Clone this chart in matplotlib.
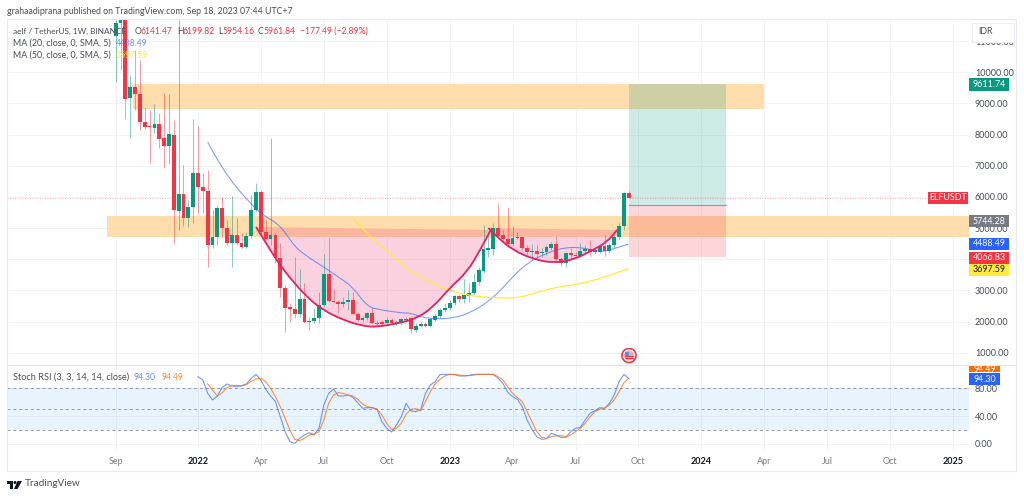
import matplotlib
matplotlib.use("Agg")
import matplotlib.pyplot as plt
from matplotlib.patches import Rectangle, Circle, Polygon, PathPatch
from matplotlib.path import Path
from matplotlib.lines import Line2D

plt.rcParams['font.family'] = ['Lato', 'DejaVu Sans']

# weekly candles, ELF/USDT in IDR
opens = [11170, 11580, 11680, 9180, 9530, 9300, 8400, 8280, 8210, 8340, 7890, 7640, 7990, 5550, 6100, 5320, 5680, 6770,
         6320, 6190, 4460, 4720, 5650, 5000, 4520, 4780, 4520, 4390, 4750, 5580, 6160, 4880, 4650, 4780, 4040, 3080,
         2470, 2400, 2240, 2730, 1990, 2020, 2120, 2530, 3530, 2660, 2630, 2560, 2630, 2690, 2240, 2050, 2120, 2280,
         1960, 1980, 1950, 2050, 1940, 1960, 2050, 2120, 1730, 1860, 1920, 1860, 2050, 2180, 2370, 2440, 2600, 2820,
         2730, 2820, 2920, 3270, 3620, 4300, 4330, 5000, 4780, 4650, 4490, 4680, 4720, 4360, 4230, 4270, 4200, 4230,
         4360, 4490, 4010, 3880, 4200, 4140, 4100, 4270, 4330, 4310, 4230, 4430, 4270, 4460, 4720, 5070, 6140]
highs = [11680, 11700, 11700, 9910, 10720, 10400, 8890, 8790, 8980, 8690, 9340, 9300, 8470, 11680, 7030, 5900, 8500, 8280,
         6770, 6870, 5580, 5740, 6000, 5260, 6030, 5320, 4840, 4880, 6060, 6450, 6220, 5260, 7890, 4840, 4520, 3170,
         2600, 4070, 3690, 3240, 2150, 2440, 2950, 4170, 4680, 3050, 2690, 2790, 3010, 2950, 2310, 2180, 2310, 2470,
         2050, 2050, 2150, 2120, 2050, 2120, 2150, 2150, 1960, 1990, 1990, 2120, 2280, 2440, 2600, 2690, 2850, 2850,
         3370, 3240, 3560, 3750, 5100, 4880, 5160, 5810, 4940, 5680, 5070, 4880, 4750, 4460, 4490, 4460, 4360, 4460,
         4550, 4750, 4070, 4230, 4360, 4230, 4520, 4460, 4620, 4390, 4460, 4780, 4520, 4840, 5160, 6160, 6200]
lows = [9690, 10070, 8500, 7890, 8790, 8150, 8180, 7090, 8050, 7570, 6930, 7060, 4490, 4940, 5070, 5040, 5160, 5490,
        5490, 3750, 4360, 4460, 4720, 4460, 3750, 4460, 4360, 4360, 4680, 5520, 4780, 4620, 4460, 3880, 2790, 1670,
        1990, 2120, 2150, 1960, 1730, 1960, 1960, 2470, 2630, 2600, 2280, 2470, 2370, 2240, 2020, 1990, 2050, 1960,
        1890, 1890, 1920, 1920, 1890, 1900, 1990, 1630, 1670, 1830, 1830, 1830, 2020, 2120, 2310, 2370, 2530, 2630,
        2600, 2630, 2850, 3170, 3560, 4070, 4140, 4680, 4550, 4430, 4430, 4650, 4300, 4140, 3980, 4040, 4070, 4140,
        4300, 3910, 3780, 3750, 3980, 4070, 4070, 4200, 4100, 4170, 4200, 4100, 4200, 4360, 4620, 4940, 5950]
closes = [11580, 11680, 9140, 9530, 9300, 8400, 8250, 8230, 8340, 7860, 7640, 8020, 5580, 6100, 5320, 5680, 6770, 6320,
          6190, 4460, 4720, 5650, 5000, 4520, 4780, 4520, 4390, 4750, 5580, 6160, 4880, 4650, 4780, 4040, 3080, 2440,
          2400, 2240, 2730, 1990, 2020, 2120, 2530, 3530, 2660, 2630, 2560, 2630, 2690, 2240, 2050, 2120, 2280, 1960,
          1920, 1930, 2050, 1950, 1990, 2080, 2080, 1760, 1860, 1920, 1860, 2080, 2180, 2370, 2440, 2600, 2820, 2730,
          2850, 2920, 3270, 3660, 4330, 4360, 5000, 4750, 4650, 4490, 4680, 4720, 4360, 4230, 4270, 4170, 4230, 4390,
          4490, 4010, 3880, 4200, 4140, 4100, 4270, 4330, 4230, 4230, 4430, 4270, 4460, 4720, 5070, 6130, 5960]

ma20_idx = [19, 22, 28, 31, 33, 35, 37, 40, 43, 46, 49, 52, 55, 59, 61, 63, 66, 70, 73, 76, 79, 82, 85, 89, 93, 97, 100, 102, 106]
ma20 = [7763, 6865, 5741, 5357, 5196, 4875, 4394, 4041, 3752, 3431, 3110, 2468, 2372, 2276, 2276, 2147, 2083, 2115, 2276,
        2532, 2917, 3431, 3880, 4201, 4394, 4362, 4233, 4298, 4488]
ma50_idx = [49, 52, 59, 61, 64, 68, 73, 79, 83, 86, 91, 96, 101, 106]
ma50 = [5324, 4779, 3880, 3591, 3335, 3046, 2821, 2757, 2757, 2886, 3110, 3206, 3431, 3698]

# hand drawn cup and handle
cup_idx = [29, 31.3, 33.5, 36, 39.5, 42.8, 47, 51, 54, 58.7, 62.3, 65.6, 69, 72.6, 75.3, 77.5]
cup = [5036, 4458, 3912, 3399, 2789, 2372, 2051, 1859, 1827, 1955, 2115, 2468, 3078, 3591, 4298, 4939]
handle_idx = [77, 78.8, 82, 86.2, 90.3, 94.5, 98.6, 101.5, 103.6]
handle = [5003, 4715, 4298, 4009, 3880, 3977, 4298, 4554, 4939]

k_idx = list(range(17, 107))
stoch_k = [96.7, 91.9, 72.7, 63.2, 68.9, 81.4, 86.2, 83.3, 82.3, 83.8, 86.2, 94.3, 100, 91.9, 78.5, 68.9, 60.8, 39.2,
           17.6, 3.2, 0.8, 8, 12.8, 16.1, 12.8, 22.4, 56, 72.7, 79, 68.9, 68.9, 70.3, 67, 59.3, 51.2, 52.1, 52.1, 49.7,
           32, 22.4, 17.1, 27.2, 39.2, 58.4, 47.3, 46.4, 48.8, 72.7, 84.7, 89.5, 100, 100, 100, 99.6, 97.7, 97.7, 98.6,
           100, 100, 100, 100, 100, 94.3, 87.1, 74.2, 67.9, 64.1, 53.6, 34.4, 20.9, 10.4, 6.6, 7.5, 15.2, 12.8, 9.4, 9.4,
           17.6, 22.4, 23.8, 34.4, 44, 47.8, 52.1, 51.2, 58.4, 70.3, 89.5, 100, 94.3]
d_idx = list(range(19, 107))
stoch_d = [86.2, 77.5, 68.9, 73.7, 80.9, 84.2, 84.2, 83.3, 85.2, 90, 93.4, 94.3, 89.5, 79.9, 67.9, 53.6, 36.8, 20, 6.6,
           4.6, 8, 12.8, 14.2, 17.6, 34.4, 58.4, 70.3, 73.7, 72.7, 70.3, 68.9, 64.1, 57.4, 53.6, 52.1, 50.2, 41.6, 29.6,
           20.9, 22.4, 29.6, 42.5, 49.7, 50.7, 47.8, 60.8, 75.1, 86.2, 92.9, 97.7, 100, 100, 99.1, 98.2, 98.2, 99.1, 100,
           100, 100, 100, 96.7, 91.9, 82.3, 72.7, 66.5, 60.8, 46.4, 32, 17.6, 9.4, 8, 10.4, 11.8, 11.8, 10.4, 12.8, 17.6,
           22.4, 29.6, 39.2, 46.4, 49.7, 51.2, 56, 63.2, 75.1, 88.1, 94.49]

price_ticks = [1000, 2000, 3000, 4000, 5000, 6000, 7000, 8000, 9000, 10000, 11000]
stoch_ticks = [0, 40, 80]
time_ticks = [0, 17, 30, 43, 56, 69, 82, 95, 108, 121, 134, 147, 160, 173]
time_labels = ['Sep', '2022', 'Apr', 'Jul', 'Oct', '2023', 'Apr', 'Jul', 'Oct', '2024', 'Apr', 'Jul', 'Oct', '2025']

entry = 5744.28
target = 9611.74
stop = 4066.83
last_close = 5961.84

GREEN = '#089981'
RED = '#F23645'
BLUE = '#2962FF'
ORANGE = '#FF6D00'
YELLOW = '#FFEB3B'
PINK = '#E91E63'
GREY = '#787B86'
DARK = '#4A4E5A'
GRID = '#F2F3F7'
W, H = 1024, 497
FS = 6.4
TICK_FS = 6.5


def fx(x):
    return x / W


def fy(y):
    return 1 - y / H


def axes_at(x0, y0, x1, y1):
    return fig.add_axes([fx(x0), fy(y1), (x1 - x0) / W, (y1 - y0) / H])


def smooth(xs, ys, closed=False):
    # quadratic curve with the read points as controls, keeps both ends
    verts = [(xs[0], ys[0])]
    codes = [Path.MOVETO]
    for i in range(1, len(xs) - 1):
        verts += [(xs[i], ys[i]), ((xs[i] + xs[i + 1]) / 2, (ys[i] + ys[i + 1]) / 2)]
        codes += [Path.CURVE3, Path.CURVE3]
    verts.append((xs[-1], ys[-1]))
    codes.append(Path.LINETO)
    if closed:
        verts.append((xs[0], ys[0]))
        codes.append(Path.CLOSEPOLY)
    return Path(verts, codes)


fig = plt.figure(figsize=(W / 100, H / 100), dpi=100, facecolor='white')
ax = axes_at(7, 20, 969, 365)
ax2 = axes_at(7, 365, 969, 450)

for a in (ax, ax2):
    a.set_xlim(-22.46, 176.3)
    a.set_xticks(time_ticks)
    a.grid(True, color=GRID, lw=0.7)
    a.set_axisbelow(True)
    for s in a.spines.values():
        s.set_visible(False)
    a.yaxis.tick_right()
    a.tick_params(length=0, labelsize=TICK_FS, labelcolor=DARK)

ax.set_ylim(607, 11678)
ax.set_yticks(price_ticks)
ax.set_yticklabels(['%.2f' % v for v in price_ticks], ha='left')
ax.tick_params(axis='y', pad=4.3)
ax.tick_params(axis='x', labelbottom=False)

# support / resistance zones
ax.fill_between([3.5, 134], 8813, 9615, color='#FFDDAD', lw=0, zorder=1)
ax.fill_between([-1.9, 176.3], 4704, 5398, color='#FFDDAD', lw=0, zorder=1)

# cup and handle shading
ax.add_patch(PathPatch(smooth(cup_idx, cup, closed=True), fc=PINK, alpha=0.2, lw=0, zorder=1.5))
ax.add_patch(PathPatch(smooth(handle_idx, handle, closed=True), fc=PINK, alpha=0.2, lw=0, zorder=1.5))

# long position tool
ax.fill_between([106, 126], entry, target, color=GREEN, alpha=0.2, lw=0, zorder=2)
ax.fill_between([106, 126], stop, entry, color=RED, alpha=0.2, lw=0, zorder=2)
ax.plot([106, 126], [entry, entry], color=GREY, lw=0.8, alpha=0.7, zorder=2)

ax.axhline(last_close, color=RED, lw=0.6, ls=(0, (1, 2)), alpha=0.5, zorder=2)

# candles
idx = list(range(len(opens)))
cols = [GREEN if c >= o else RED for o, c in zip(opens, closes)]
ax.vlines(idx, lows, highs, colors=cols, lw=0.7, alpha=0.5, zorder=3)
ax.bar(idx, [abs(c - o) for o, c in zip(opens, closes)], bottom=[min(o, c) for o, c in zip(opens, closes)],
       width=0.78, color=cols, lw=0, zorder=3.5)

ax.add_patch(PathPatch(smooth(ma20_idx, ma20), fc='none', ec=BLUE, lw=0.8, alpha=0.6, zorder=4))
ax.add_patch(PathPatch(smooth(ma50_idx, ma50), fc='none', ec=YELLOW, lw=0.9, zorder=4))
ax.add_patch(PathPatch(smooth(cup_idx, cup), fc='none', ec=PINK, lw=1.3, zorder=4.5))
ax.add_patch(PathPatch(smooth(handle_idx, handle), fc='none', ec=PINK, lw=1.3, zorder=4.5))

# stoch rsi pane
ax2.set_ylim(-8.8, 113.5)
ax2.set_yticks(stoch_ticks)
ax2.set_yticklabels(['%.2f' % v for v in stoch_ticks], ha='left')
ax2.tick_params(axis='y', pad=4.3)
ax2.set_xticklabels(time_labels)
ax2.tick_params(axis='x', pad=5, labelcolor=GREY)
for lab, t in zip(ax2.get_xticklabels(), time_labels):
    if t.isdigit():
        lab.set_fontweight('bold')
        lab.set_color('#131722')
ax2.axhspan(20, 80, color='#2196F3', alpha=0.1, lw=0)
for lvl in (20, 50, 80):
    ax2.axhline(lvl, color='#9598A1', lw=0.7, ls=(0, (3, 3)))
ax2.plot(k_idx, stoch_k, color=BLUE, lw=0.8, alpha=0.65)
ax2.plot(d_idx, stoch_d, color=ORANGE, lw=0.8, alpha=0.75)

# frame
fig.add_artist(Rectangle((fx(7), fy(471)), (1016 - 7) / W, (471 - 19) / H, fill=False, ec='#E8EAF0', lw=0.8))
fig.add_artist(Line2D([fx(7), fx(1016)], [fy(365), fy(365)], color='#E0E3EB', lw=0.8))


def txt(x, y, s, color=DARK, ha='left', size=FS, **kw):
    fig.text(fx(x), fy(y), s, color=color, ha=ha, va='center', fontsize=size, **kw)


def tag(x0, x1, yc, s, bg, fg='white', h=12):
    fig.add_artist(Rectangle((fx(x0), fy(yc + h / 2)), (x1 - x0) / W, h / H, fc=bg, ec='none', zorder=6))
    fig.text(fx((x0 + x1) / 2), fy(yc), s, color=fg, ha='center', va='center', fontsize=FS, zorder=7)


txt(7, 11, 'grahaadiprana published on TradingView.com, Sep 18, 2023 07:44 UTC+7', size=6.35)
txt(13, 31, 'aelf / TetherUS, 1W, BINANCE', size=5.95)
for x, lab, val in [(135, 'O', '6141.47'), (177, 'H', '6199.82'), (218, 'L', '5954.16'), (258, 'C', '5961.84')]:
    txt(x, 31, lab, size=6.2)
    txt(x + 5.5 if lab != 'L' else x + 4.5, 31, val, color=RED, size=6.2)
txt(300, 31, '\u2212177.49 (\u22122.89%)', color=RED, size=6.2)
txt(13, 43, 'MA (20, close, 0, SMA, 5)', size=6.4)
txt(116, 43, '4488.49', color=BLUE, alpha=0.7, size=6.2)
txt(13, 55, 'MA (50, close, 0, SMA, 5)', size=6.4)
txt(116, 55, '3697.59', color=YELLOW, size=6.2)
txt(13, 377, 'Stoch RSI (3, 3, 14, 14, close)', size=6.55)
txt(134, 377, '94.30', color=BLUE, alpha=0.7, size=6.2)
txt(161, 377, '94.49', color=ORANGE, alpha=0.8, size=6.2)

# price scale tags
fig.add_artist(Rectangle((fx(971.5), fy(41.5)), 42 / W, 18.5 / H, fc='white', ec='#EDEFF4', lw=0.8, zorder=6))
txt(978, 32, 'IDR', zorder=7)
tag(969, 1009, 84.5, '9611.74', GREEN)
tag(928, 968, 198, 'ELFUSDT', RED)
tag(969, 1009, 221, '5744.28', GREY)
tag(969, 1009, 244, '4488.49', BLUE)
tag(969, 1009, 257.7, '4066.83', RED)
tag(969, 1009, 270, '3697.59', YELLOW, fg='#131722')
fig.add_artist(Rectangle((fx(969), fy(372)), 31 / W, 6 / H, fc=ORANGE, ec='none', zorder=6))
fig.text(fx(984.5), fy(369), '94.49', color='white', ha='center', va='center', fontsize=FS, zorder=6.5)
tag(969, 1000, 379, '94.30', BLUE)

# event marker on the time axis
m = fig.add_axes([fx(621), fy(363.5), 16 / W, 16 / H])
m.set_xlim(-1, 1)
m.set_ylim(-1, 1)
m.axis('off')
m.add_patch(Circle((0, 0), 0.88, fc='white', ec=RED, lw=1.2))
m.add_patch(Circle((0, 0), 0.62, fc='#F7A8AF', ec='none'))
m.add_patch(Rectangle((-0.55, 0.0), 0.55, 0.5, fc='#5B8DEF', ec='none'))
for yy in (-0.35, -0.05):
    m.plot([-0.55, 0.55], [yy, yy], color=RED, lw=0.8)

# TradingView logo
lg = fig.add_axes([fx(7), fy(490), 15 / W, 10 / H])
lg.set_xlim(0, 15)
lg.set_ylim(0, 10)
lg.axis('off')
lg.add_patch(Polygon([(0, 9), (6, 9), (6, 1), (3, 1), (3, 6), (0, 6)], fc='#131722', ec='none'))
lg.add_patch(Circle((8, 7.5), 1.5, fc='#131722', ec='none'))
lg.add_patch(Polygon([(10.5, 9), (15, 9), (10.5, 1), (7, 1)], fc='#131722', ec='none'))
txt(25, 484, 'TradingView', color='#4A4E5A', size=7.2)

fig.savefig('out.png', dpi=100)
